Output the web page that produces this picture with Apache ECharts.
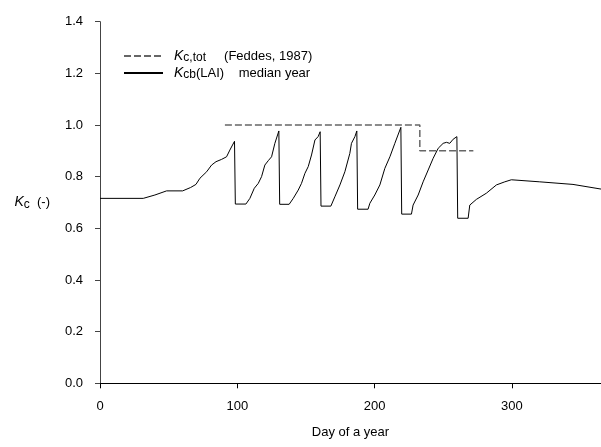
<!DOCTYPE html>
<html>
<head>
<meta charset="utf-8">
<script src="https://cdn.jsdelivr.net/npm/echarts@6/dist/echarts.min.js"></script>
<style>html,body{margin:0;padding:0;background:#fff}#c{width:601px;height:447px}</style>
</head>
<body>
<div id="c"></div>
<script>
// Kc,tot (Feddes, 1987)
const kcTotDays   = [91, 233, 233, 272];
const kcTotValues = [1.0, 1.0, 0.9, 0.9];

// Kcb(LAI) median year
const kcbDays = [0, 31.5, 40, 48.5, 60.2, 66, 69.9, 72.8, 77.7, 81.3, 84.5, 88.6, 92.2, 94.6, 98, 98.6, 106.3,
  109.2, 112.4, 115.3, 117.7, 120.1, 122.6, 125, 127.4, 130.3, 130.9, 137.8,
  140.8, 144.4, 146.8, 149.3, 151.7, 154.1, 156.6, 158.9, 160.4, 161, 168.2,
  171.1, 174.8, 178.4, 182, 183.2, 185.7, 187.1, 187.7, 195.3,
  196.6, 200.2, 203.9, 207.5, 211.2, 214.8, 219.2, 219.8, 226.9,
  228.1, 231.8, 235.4, 239.1, 242.7, 246.4, 250, 252.4, 254.8, 257.3, 260, 260.6, 268.2,
  269.4, 270.6, 274.2, 281.5, 288.8, 294.9, 299.7, 320.4, 344.6, 365];
const kcbValues = [0.716, 0.716, 0.729, 0.745, 0.745, 0.758, 0.770, 0.794, 0.819, 0.845, 0.858, 0.867, 0.877, 0.903, 0.937, 0.694, 0.694,
  0.716, 0.755, 0.774, 0.800, 0.845, 0.862, 0.877, 0.929, 0.977, 0.693, 0.693,
  0.716, 0.748, 0.774, 0.813, 0.839, 0.884, 0.942, 0.955, 0.974, 0.686, 0.686,
  0.722, 0.768, 0.819, 0.890, 0.929, 0.955, 0.977, 0.674, 0.674,
  0.697, 0.729, 0.768, 0.832, 0.877, 0.929, 0.991, 0.655, 0.655,
  0.690, 0.729, 0.780, 0.826, 0.871, 0.910, 0.929, 0.933, 0.929, 0.945, 0.955, 0.639, 0.639,
  0.690, 0.697, 0.712, 0.736, 0.768, 0.780, 0.788, 0.780, 0.770, 0.752];

const xTicks = [0, 100, 200, 300];
const yTicks = [0, 0.2, 0.4, 0.6, 0.8, 1.0, 1.2, 1.4];

const F = 'Liberation Sans, Arial, sans-serif';
const rich = {
  k: {fontFamily: F, fontStyle: 'italic', fontSize: 14, color: '#000', lineHeight: 16},
  s: {fontFamily: F, fontSize: 12, color: '#000', verticalAlign: 'bottom', lineHeight: 12},
  t: {fontFamily: F, fontSize: 13, color: '#000', lineHeight: 16},
  p: {width: 6}
};

const chart = echarts.init(document.getElementById('c'));
chart.setOption({
  animation: false,
  backgroundColor: '#fff',
  grid: {left: 100, right: 0, top: 21.7, bottom: 63.7, outerBoundsMode: 'none', containLabel: false},
  legend: {
    orient: 'vertical', left: 123, top: 49, padding: 0, itemWidth: 39, itemHeight: 12, itemGap: 2,
    data: ['Kc,tot', 'Kcb'],
    itemStyle: {opacity: 0},
    formatter: function (n) {
      return n === 'Kc,tot'
        ? '{p|}{k|K}{s|c,tot}{t|     (Feddes, 1987)}'
        : '{p|}{k|K}{s|cb}{t|(LAI)    median year}';
    },
    textStyle: {rich: rich}
  },
  xAxis: {
    type: 'value', min: 0, max: 365,
    name: 'Day of a year', nameLocation: 'middle', nameGap: 43,
    nameTextStyle: {fontFamily: F, fontSize: 13, color: '#000'},
    axisLine: {lineStyle: {color: '#000', width: 1}},
    axisTick: {show: true, length: 5, lineStyle: {color: '#000'}, customValues: xTicks},
    axisLabel: {fontFamily: F, fontSize: 13, color: '#000', margin: 17, customValues: xTicks},
    splitLine: {show: false}
  },
  yAxis: {
    type: 'value', min: 0, max: 1.4, interval: 0.2,
    name: '{k|K}{s|c}{t|  (-)}', nameLocation: 'middle', nameRotate: 0, nameGap: 50,
    nameTextStyle: {rich: rich},
    axisLine: {show: true, lineStyle: {color: '#444', width: 1}},
    axisTick: {show: true, length: 5, lineStyle: {color: '#444'}, customValues: yTicks},
    axisLabel: {fontFamily: F, fontSize: 13, color: '#000', margin: 17, customValues: yTicks,
      formatter: v => v.toFixed(1)},
    splitLine: {show: false}
  },
  series: [
    {
      name: 'Kc,tot', type: 'line', symbol: 'none',
      data: kcTotDays.map((d, i) => [d, kcTotValues[i]]),
      itemStyle: {color: '#666'},
      lineStyle: {color: '#666', width: 1.5, type: [7, 3]}
    },
    {
      name: 'Kcb', type: 'line', symbol: 'none',
      data: kcbDays.map((d, i) => [d, kcbValues[i]]),
      itemStyle: {color: '#000'},
      lineStyle: {color: '#000', width: 1}
    }
  ]
});
</script>
</body>
</html>
